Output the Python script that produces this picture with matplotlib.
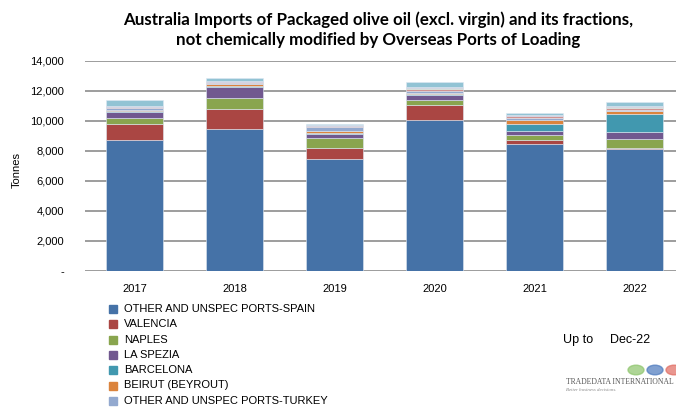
import matplotlib.pyplot as plt
from matplotlib.patches import Rectangle
import numpy as np

years = ['2017', '2018', '2019', '2020', '2021', '2022']

# tonnes per port of loading, bottom to top of each stack
spain_other = [8710, 9460, 7430, 10075, 8465, 8135]
valencia = [1070, 1330, 730, 965, 265, 40]
naples = [400, 760, 665, 330, 310, 620]
la_spezia = [400, 710, 310, 365, 265, 445]
barcelona = [50, 40, 30, 40, 485, 1200]
beirut = [110, 130, 130, 100, 265, 180]
turkey_other = [80, 70, 265, 130, 140, 130]
port_8 = [80, 70, 60, 130, 100, 130]
port_9 = [40, 30, 50, 50, 50, 50]
port_10 = [40, 30, 40, 50, 40, 40]
port_11 = [400, 220, 90, 350, 140, 265]

series = [spain_other, valencia, naples, la_spezia, barcelona, beirut,
          turkey_other, port_8, port_9, port_10, port_11]
names = ['OTHER AND UNSPEC PORTS-SPAIN', 'VALENCIA', 'NAPLES', 'LA SPEZIA',
         'BARCELONA', 'BEIRUT (BEYROUT)', 'OTHER AND UNSPEC PORTS-TURKEY']
colors = ['#4572A7', '#AA4643', '#89A54E', '#71588F', '#4198AF', '#DB843D',
          '#93A9CF', '#D19392', '#B9CD96', '#A99BBD', '#92C3D4']

plt.rcParams['font.family'] = ['Lato', 'DejaVu Sans']

fig = plt.figure(figsize=(6.76, 4.09), dpi=100)
W, H = 676, 409
ax = fig.add_axes([84.7 / W, 1 - 271 / H, 600 / W, (271 - 60.7) / H])

x = np.arange(len(years))
bottom = np.zeros(len(years))
for vals, c in zip(series, colors):
    ax.bar(x, vals, width=0.57, bottom=bottom, color=c,
           edgecolor='#dfe8f2', linewidth=0.4)
    bottom += np.array(vals)

ax.set_xlim(-0.5, 5.5)
ax.set_ylim(0, 14000)
ax.set_yticks(range(0, 14001, 2000))
ax.set_yticklabels(['-'] + [f'{v:,}' for v in range(2000, 14001, 2000)],
                   family='Liberation Sans', fontsize=8)
ax.set_xticks(x)
ax.set_xticklabels(years, family='Liberation Sans', fontsize=8)
ax.tick_params(axis='y', length=0, pad=15)
ax.tick_params(axis='x', length=0, pad=9)
ax.grid(axis='y', color='#8c8c8c', linewidth=1.2)
ax.set_axisbelow(True)
for s in ax.spines.values():
    s.set_visible(False)

fig.text(17 / W, 1 - 170 / H, 'Tonnes', rotation=90, ha='center', va='center',
         family='Liberation Sans', fontsize=8)

fig.text(378 / W, 1 - 20 / H,
         'Australia Imports of Packaged olive oil (excl. virgin) and its fractions,',
         ha='center', va='center', fontsize=12.2, fontweight='bold')
fig.text(378 / W, 1 - 40 / H,
         'not chemically modified by Overseas Ports of Loading',
         ha='center', va='center', fontsize=12.2, fontweight='bold')

# legend, only the first seven ports are listed
for i, (n, c) in enumerate(zip(names, colors[:7])):
    yy = 309 + i * 15.3
    fig.patches.append(Rectangle((109 / W, 1 - (yy + 4) / H), 8 / W, 8 / H,
                                 color=c, transform=fig.transFigure))
    fig.text(124 / W, 1 - yy / H, n, ha='left', va='center',
             family='Liberation Sans', fontsize=8)

fig.text(563 / W, 1 - 340 / H, 'Up to', ha='left', va='center',
         family='Liberation Sans', fontsize=9)
fig.text(610 / W, 1 - 340 / H, 'Dec-22', ha='left', va='center',
         family='Liberation Sans', fontsize=9)

fig.text(566 / W, 1 - 382 / H, 'TRADEDATA INTERNATIONAL', ha='left', va='center',
         family='Liberation Serif', fontsize=5.5, color='#555555')
fig.text(566 / W, 1 - 390 / H, 'Better business decisions.', ha='left', va='center',
         family='Liberation Serif', fontsize=3.5, style='italic', color='#888888')
for cx, c in [(636, '#8cc46a'), (655, '#4a78bd'), (674, '#e06a60')]:
    fig.patches.append(plt.Circle((cx / W, 1 - 370 / H), 8 / W, color=c,
                                  transform=fig.transFigure, alpha=0.7))

fig.savefig('out.png', dpi=100)
